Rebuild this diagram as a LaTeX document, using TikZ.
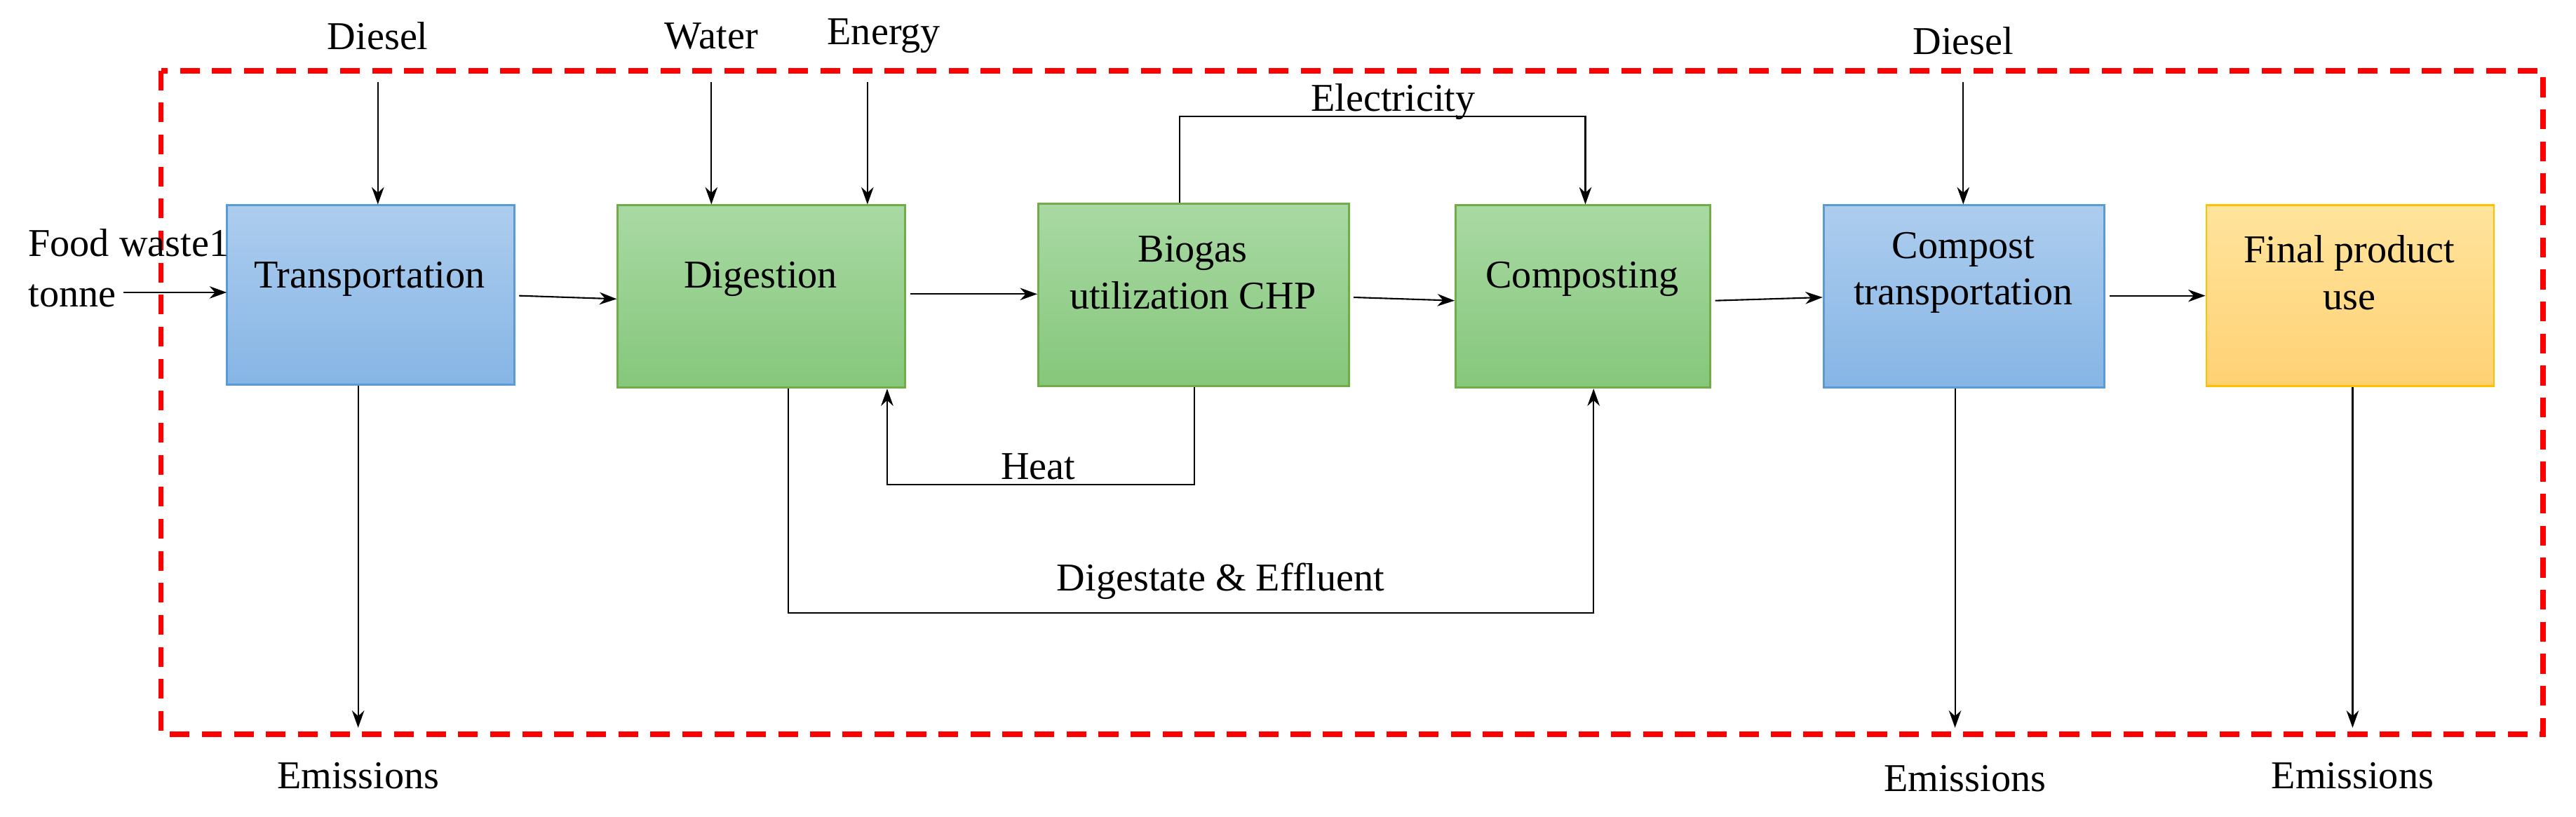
\documentclass[tikz,border=0pt]{standalone}
\usepackage{fontspec}
\setmainfont{Liberation Serif}
\usetikzlibrary{arrows.meta}
\definecolor{bb}{HTML}{5B9BD5}
\definecolor{gb}{HTML}{70AD47}
\definecolor{ob}{HTML}{FFC000}
\definecolor{bt}{HTML}{ADCDEE}
\definecolor{bbt}{HTML}{86B5E5}
\definecolor{gt}{HTML}{A9D9A3}
\definecolor{gbt}{HTML}{85C77B}
\definecolor{ot}{HTML}{FFE49C}
\definecolor{obt}{HTML}{FFD174}
\begin{document}
\begin{tikzpicture}[x=0.02343cm,y=-0.02343cm,
 font=\fontsize{16}{19}\selectfont,
 box/.style={draw,line width=0.8pt,align=center,text width=3.6cm},
 blue/.style={box,draw=bb,top color=bt,bottom color=bbt},
 green/.style={box,draw=gb,top color=gt,bottom color=gbt},
 orng/.style={box,draw=ob,top color=ot,bottom color=obt},
 arr/.style={-{Stealth[length=7pt,width=5pt]},line width=0.6pt},
 ln/.style={line width=0.6pt}]
\useasboundingbox (0,0) rectangle (1568,497);
\draw[red,dashed,line width=2.2pt,dash pattern=on 8pt off 5pt] (98,43) rectangle (1548,447);
\newcommand\bx[6]{\node[#1,minimum width={(#4-#3)*0.02343cm},minimum height={(#6-#5)*0.02343cm},inner sep=0pt] (#2) at ({(#3+#4)/2},{(#5+#6)/2}) {};}
\bx{blue}{tr}{138}{313}{125}{234}
\bx{green}{dg}{376}{551}{125}{236}
\bx{green}{bg}{632}{821}{124}{235}
\bx{green}{cp}{886}{1041}{125}{236}
\bx{blue}{ct}{1110}{1281}{125}{236}
\bx{orng}{fp}{1343}{1518}{125}{235}
\node at (225,170) {Transportation};
\node at (463,170) {Digestion};
\node[align=center] at (726,166) {Biogas\\utilization CHP};
\node at (963,170) {Composting};
\node[align=center] at (1195,166) {Compost\\transportation};
\node[align=center] at (1430,166) {Final product\\use};
\node[anchor=west] (fw) at (12,148) {Food waste1};
\node[anchor=west] (tn) at (12,180) {tonne};
\coordinate (fws) at (75,178);
\draw[arr] (fws) -- (138,178);
\node (d1) at (230,22) {Diesel};
\node (w) at (433,22) {Water};
\node (e) at (538,22) {Energy};
\node (d2) at (1195,25) {Diesel};
\draw[arr] (230,50) -- (tr.north -| 230,0);
\draw[arr] (433,50) -- (dg.north -| 433,0);
\draw[arr] (528,50) -- (dg.north -| 528,0);
\draw[arr] (1195,50) -- (ct.north -| 1195,0);
\draw[arr] (316,180) -- (dg.west |- 0,182);
\draw[arr] (554,179) -- (bg.west |- 0,179);
\draw[arr] (824,181) -- (cp.west |- 0,183);
\draw[arr] (1044,183) -- (ct.west |- 0,181);
\draw[arr] (1284,180) -- (fp.west |- 0,180);
\draw[arr] (bg.north -| 718,0) -- (718,71) -- (965,71) -- (cp.north -| 965,0);
\node at (848,62) {Electricity};
\draw[arr] (bg.south -| 727,0) -- (727,295) -- (540,295) -- (dg.south -| 540,0);
\node at (632,284) {Heat};
\draw[arr] (dg.south -| 480,0) -- (480,373) -- (970,373) -- (cp.south -| 970,0);
\node at (743,354) {Digestate \& Effluent};
\draw[arr] (tr.south -| 218,0) -- (218,443);
\draw[arr] (ct.south -| 1190,0) -- (1190,443);
\draw[arr] (fp.south -| 1432,0) -- (1432,443);
\node at (218,472) {Emissions};
\node at (1196,474) {Emissions};
\node at (1432,472) {Emissions};
\end{tikzpicture}
\end{document}
